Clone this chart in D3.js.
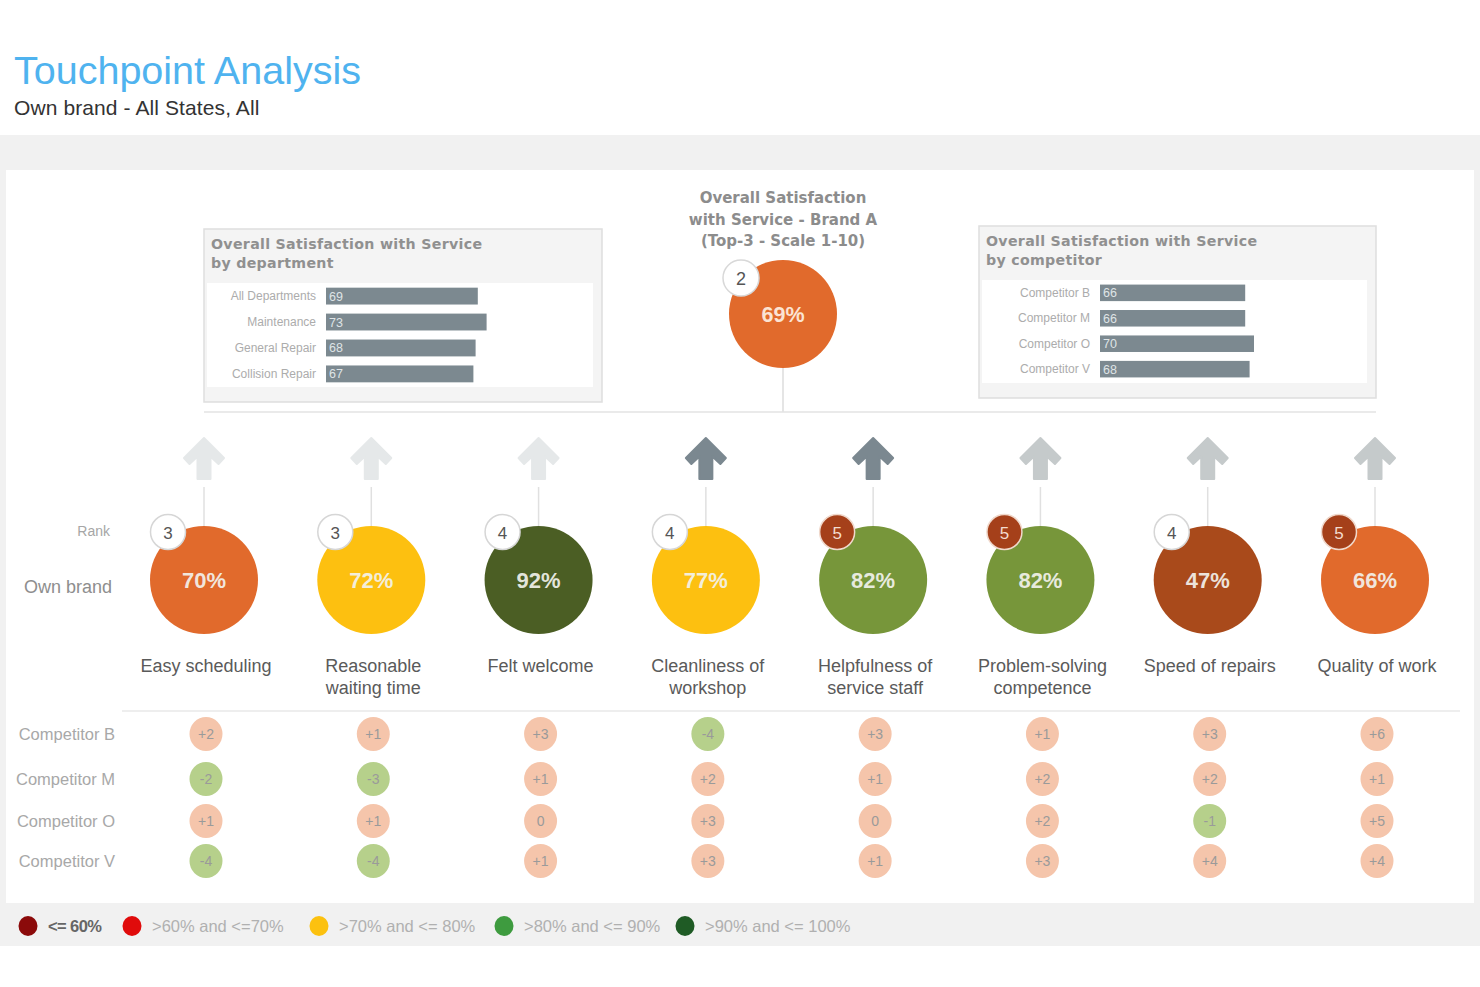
<!DOCTYPE html>
<html>
<head>
<meta charset="utf-8">
<script src="https://cdn.jsdelivr.net/npm/d3@7/dist/d3.min.js"></script>
<style>
html,body{margin:0;padding:0;background:#fff;}
svg{display:block;font-family:"Liberation Sans",Arial,sans-serif;}
</style>
</head>
<body>
<svg id="chart" width="1480" height="987"></svg>
<script>
// ---------- DATA ----------
const touchpoints = ["Easy scheduling", "Reasonable\nwaiting time", "Felt welcome", "Cleanliness of\nworkshop",
  "Helpfulness of\nservice staff", "Problem-solving\ncompetence", "Speed of repairs", "Quality of work"];
const ownBrand = [70, 72, 92, 77, 82, 82, 47, 66];
const ranks = [3, 3, 4, 4, 5, 5, 4, 5];
const importance = [1, 1, 1, 3, 3, 2, 2, 2];   // arrow shade level
const competitorNames = ["Competitor B", "Competitor M", "Competitor O", "Competitor V"];
const compB = [2, 1, 3, -4, 3, 1, 3, 6];
const compM = [-2, -3, 1, 2, 1, 2, 2, 1];
const compO = [1, 1, 0, 3, 0, 2, -1, 5];
const compV = [-4, -4, 1, 3, 1, 3, 4, 4];
const departments = ["All Departments", "Maintenance", "General Repair", "Collision Repair"];
const deptValues = [69, 73, 68, 67];
const competitorValues = [66, 66, 70, 68];
const overallValue = 69;
const overallRank = 2;
const legendLabels = ["<= 60%", ">60% and <=70%", ">70% and <= 80%", ">80% and <= 90%", ">90% and <= 100%"];
const legendColors = ["#8b0a0a", "#e00b0b", "#fcc10f", "#3e9b3f", "#1f5b25"];

// ---------- SETUP ----------
const svg = d3.select("#chart");
const W = 1480;

const circleColor = d3.scaleThreshold()
  .domain([60.5, 70.5, 80.5, 90.5])
  .range(["#a94a1b", "#e16a2c", "#fdc010", "#77963a", "#4b5e24"]);

const arrowColor = d3.scaleOrdinal().domain([1, 2, 3]).range(["#e5e8e9", "#c5cacb", "#7b8890"]);

const x = d3.scalePoint().domain(d3.range(touchpoints.length)).range([204, 1375]);

// backgrounds
svg.append("rect").attr("x", 0).attr("y", 135).attr("width", W).attr("height", 811).attr("fill", "#f1f1f1");
svg.append("rect").attr("x", 6).attr("y", 170).attr("width", 1468).attr("height", 733).attr("fill", "#ffffff");

// title
svg.append("text").attr("x", 14).attr("y", 84).attr("font-size", 39.5).attr("fill", "#4fb3ef")
  .text("Touchpoint Analysis");
svg.append("text").attr("x", 14).attr("y", 115).attr("font-size", 21).attr("fill", "#333")
  .attr("letter-spacing", "0.1").text("Own brand - All States, All");

// ---------- BAR PANELS ----------
function barPanel(opts) {
  const g = svg.append("g");
  g.append("rect").attr("x", opts.x).attr("y", opts.y).attr("width", opts.w).attr("height", opts.h)
    .attr("fill", "#f4f4f4").attr("stroke", "#dedede").attr("stroke-width", 1.5);
  g.append("rect").attr("x", opts.x + 3).attr("y", opts.innerY).attr("width", opts.w - 12).attr("height", opts.innerH)
    .attr("fill", "#fff");
  opts.title.forEach((t, i) => {
    g.append("text").attr("x", opts.x + 7).attr("y", opts.y + 20 + i * 19)
      .attr("font-family", "'DejaVu Sans',sans-serif").attr("font-size", 14.2).attr("font-weight", "bold")
      .attr("fill", "#909090").attr("letter-spacing", "0.3").text(t);
  });
  const xs = d3.scaleLinear().domain([0, 100]).range([opts.barX, opts.barX + 220]);
  const ys = d3.scaleBand().domain(opts.labels).range([opts.rowTop, opts.rowTop + opts.rowStep * opts.labels.length]).paddingInner(0.35).paddingOuter(0.18);
  opts.labels.forEach((lab, i) => {
    const yy = ys(lab);
    g.append("rect").attr("x", xs(0)).attr("y", yy).attr("width", xs(opts.values[i]) - xs(0)).attr("height", ys.bandwidth())
      .attr("fill", "#7c8990");
    g.append("text").attr("x", xs(0) + 3).attr("y", yy + ys.bandwidth() / 2 + 4.5).attr("font-size", 12.5)
      .attr("fill", "#dfe4e6").text(opts.values[i]);
    g.append("text").attr("x", opts.barX - 10).attr("y", yy + ys.bandwidth() / 2 + 4).attr("text-anchor", "end")
      .attr("font-size", 12).attr("fill", "#acacac").text(lab);
  });
}

barPanel({x: 204, y: 229, w: 398, h: 173, innerY: 283, innerH: 104, title: ["Overall Satisfaction with Service", "by department"],
  labels: departments, values: deptValues, barX: 326, rowTop: 283, rowStep: 26});
barPanel({x: 979, y: 226, w: 397, h: 172, innerY: 280, innerH: 103, title: ["Overall Satisfaction with Service", "by competitor"],
  labels: competitorNames, values: competitorValues, barX: 1100, rowTop: 280, rowStep: 25.5});

// ---------- CENTER OVERALL ----------
const cX = 783;
["Overall Satisfaction", "with Service - Brand A", "(Top-3 - Scale 1-10)"].forEach((t, i) => {
  svg.append("text").attr("x", cX).attr("y", 203 + i * 21.5).attr("text-anchor", "middle")
    .attr("font-family", "'DejaVu Sans',sans-serif").attr("font-size", 15).attr("font-weight", "bold")
    .attr("fill", "#8c8c8c").text(t);
});
svg.append("line").attr("x1", cX).attr("x2", cX).attr("y1", 360).attr("y2", 412).attr("stroke", "#dcdcdc").attr("stroke-width", 1.5);
svg.append("line").attr("x1", 204).attr("x2", 1376).attr("y1", 412).attr("y2", 412).attr("stroke", "#e3e3e3").attr("stroke-width", 1.5);
svg.append("circle").attr("cx", cX).attr("cy", 314).attr("r", 54).attr("fill", circleColor(overallValue));
svg.append("text").attr("x", cX).attr("y", 322).attr("text-anchor", "middle").attr("font-size", 21.5).attr("font-weight", "bold")
  .attr("fill", "#fbe3d3").text(overallValue + "%");
svg.append("circle").attr("cx", 741).attr("cy", 278).attr("r", 18).attr("fill", "#fff").attr("stroke", "#d8d8d8").attr("stroke-width", 1.5);
svg.append("text").attr("x", 741).attr("y", 285).attr("text-anchor", "middle").attr("font-size", 18).attr("fill", "#555").text(overallRank);

// ---------- ARROWS ----------
const arrowPath = "M0,0 L20,20 L14.5,26 L6.5,18.5 L6.5,41 L-6.5,41 L-6.5,18.5 L-14.5,26 L-20,20 Z";
touchpoints.forEach((t, i) => {
  svg.append("path").attr("d", arrowPath).attr("transform", `translate(${x(i)},438)`)
    .attr("fill", arrowColor(importance[i])).attr("stroke", arrowColor(importance[i])).attr("stroke-width", 2).attr("stroke-linejoin", "round");
  svg.append("line").attr("x1", x(i)).attr("x2", x(i)).attr("y1", 487).attr("y2", 528).attr("stroke", "#e0e0e0").attr("stroke-width", 1.5);
});

// row labels
svg.append("text").attr("x", 110).attr("y", 536).attr("text-anchor", "end").attr("font-size", 14).attr("fill", "#a6a6a6").text("Rank");
svg.append("text").attr("x", 112).attr("y", 593).attr("text-anchor", "end").attr("font-size", 18).attr("fill", "#8e8e8e").text("Own brand");

// ---------- OWN BRAND CIRCLES ----------
const cy = 580;
touchpoints.forEach((t, i) => {
  const cx = x(i);
  svg.append("circle").attr("cx", cx).attr("cy", cy).attr("r", 54).attr("fill", circleColor(ownBrand[i]));
  svg.append("text").attr("x", cx).attr("y", cy + 7.5).attr("text-anchor", "middle").attr("font-size", 22).attr("font-weight", "bold")
    .attr("fill", "#f3f3ee").attr("fill-opacity", 0.92).text(ownBrand[i] + "%");
  const bad = ranks[i] >= 5;
  svg.append("circle").attr("cx", cx - 36).attr("cy", 532).attr("r", 17.5)
    .attr("fill", bad ? "#a5401a" : "#fff").attr("stroke", bad ? "#f0d9cc" : "#d6d6d6").attr("stroke-width", 1.5);
  svg.append("text").attr("x", cx - 36).attr("y", 538.5).attr("text-anchor", "middle").attr("font-size", 17)
    .attr("fill", bad ? "#f3dccf" : "#555").text(ranks[i]);
  const lines = t.split("\n");
  lines.forEach((ln, k) => {
    svg.append("text").attr("x", cx + 2).attr("y", 672 + k * 22).attr("text-anchor", "middle").attr("font-size", 18)
      .attr("fill", "#5a5a5a").text(ln);
  });
});

svg.append("line").attr("x1", 122).attr("x2", 1460).attr("y1", 711).attr("y2", 711).attr("stroke", "#e8e8e8").attr("stroke-width", 1.5);

// ---------- COMPETITOR DELTAS ----------
const compSeries = [compB, compM, compO, compV];
const rowY = d3.scaleOrdinal().domain(competitorNames).range([734, 779, 821, 861]);
competitorNames.forEach((name, r) => {
  const yy = rowY(name);
  svg.append("text").attr("x", 115).attr("y", yy + 5.5).attr("text-anchor", "end").attr("font-size", 16.5)
    .attr("fill", "#a8a8a8").text(name);
  compSeries[r].forEach((v, i) => {
    const cx = x(i) + 2;
    svg.append("ellipse").attr("cx", cx).attr("cy", yy).attr("rx", 16.5).attr("ry", 17)
      .attr("fill", v < 0 ? "#b6d08b" : "#f5c5ab");
    svg.append("text").attr("x", cx).attr("y", yy + 5).attr("text-anchor", "middle").attr("font-size", 14)
      .attr("fill", "#9a9a9a").text(v > 0 ? "+" + v : String(v));
  });
});

// ---------- LEGEND ----------
const legendX = [28, 132, 319, 504, 685];
legendLabels.forEach((lab, i) => {
  svg.append("ellipse").attr("cx", legendX[i]).attr("cy", 926).attr("rx", 9.5).attr("ry", 10).attr("fill", legendColors[i]);
  svg.append("text").attr("x", legendX[i] + 20).attr("y", 931.5).attr("font-size", 16.5)
    .attr("fill", i === 0 ? "#666" : "#b0b0b0").attr("font-weight", i === 0 ? "bold" : "normal")
    .attr("letter-spacing", i === 0 ? "-0.6" : "0").text(lab);
});
</script>
</body>
</html>
